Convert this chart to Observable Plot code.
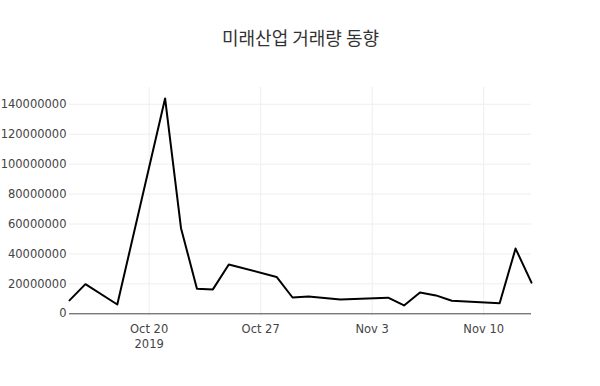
<!DOCTYPE html>
<html>
<head>
<meta charset="utf-8">
<script src="https://cdn.jsdelivr.net/npm/d3@7"></script>
<script src="https://cdn.jsdelivr.net/npm/@observablehq/plot@0.6"></script>
<style>
  html, body { margin: 0; padding: 0; background: #fff; }
  #chart svg { display: block; }
</style>
</head>
<body>
<div id="chart"></div>
<script>
const title = "미래산업 거래량 동향";
const dates = ["2019-10-15","2019-10-16","2019-10-18","2019-10-21","2019-10-22","2019-10-23","2019-10-24","2019-10-25","2019-10-28","2019-10-29","2019-10-30","2019-11-01","2019-11-04","2019-11-05","2019-11-06","2019-11-07","2019-11-08","2019-11-11","2019-11-12","2019-11-13"];
const volumes = [9.0e6, 19.8e6, 6.2e6, 143.9e6, 57.2e6, 16.8e6, 16.3e6, 33.0e6, 24.6e6, 10.9e6, 11.5e6, 9.6e6, 10.8e6, 5.6e6, 14.2e6, 12.3e6, 8.7e6, 7.1e6, 43.6e6, 20.8e6];
const xTicks = ["2019-10-20","2019-10-27","2019-11-03","2019-11-10"];
const yTicks = [0, 20e6, 40e6, 60e6, 80e6, 100e6, 120e6, 140e6];

const data = dates.map((d, i) => ({date: new Date(d + "T00:00:00Z"), volume: volumes[i]}));
const xTickDates = xTicks.map(d => new Date(d + "T00:00:00Z"));
const fmtDay = d3.utcFormat("%b %-d");

const chart = Plot.plot({
  width: 600,
  height: 386,
  marginLeft: 69,
  marginRight: 69,
  marginTop: 87,
  marginBottom: 70,
  style: {fontFamily: "'DejaVu Sans', sans-serif", fontSize: "11.5px", color: "#444", background: "#fff"},
  x: {type: "utc", domain: [data[0].date, data[data.length - 1].date]},
  y: {domain: [-1.8e6, 151.2e6]},
  marks: [
    Plot.gridX(xTickDates, {stroke: "#eee", strokeOpacity: 1}),
    Plot.gridY(yTicks.slice(1), {stroke: "#eee", strokeOpacity: 1}),
    Plot.ruleY([0], {stroke: "#444", strokeWidth: 1}),
    Plot.axisX(xTickDates, {
      tickSize: 0, tickPadding: 6, label: null,
      tickFormat: (d, i) => i === 0 ? fmtDay(d) + "\n" + d.getUTCFullYear() : fmtDay(d),
      lineHeight: 1.3, fill: "#444"
    }),
    Plot.axisY(yTicks, {tickSize: 0, tickPadding: 3, label: null, tickFormat: d3.format("d"), fill: "#444"}),
    Plot.line(data, {x: "date", y: "volume", stroke: "#000", strokeWidth: 2}),
    Plot.text([title], {
      frameAnchor: "top", dy: -55, text: d => d,
      fontFamily: "'Noto Sans CJK KR', sans-serif", fontSize: 18, fill: "#333", textAnchor: "middle"
    })
  ]
});
document.getElementById("chart").appendChild(chart);
</script>
</body>
</html>
